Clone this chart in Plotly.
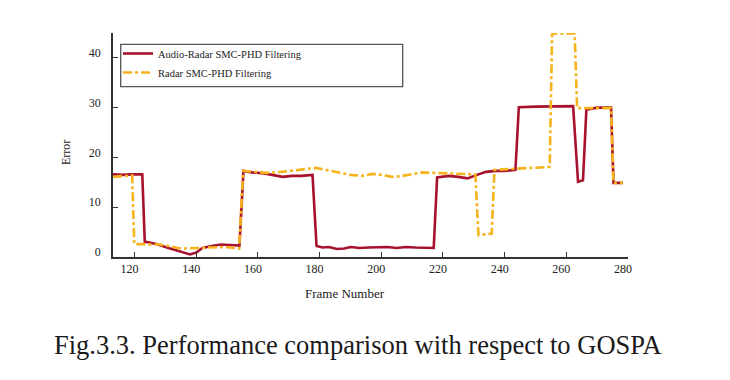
import plotly.graph_objects as go

# Audio-Radar SMC-PHD Filtering
frames_ar = [113, 116, 119, 122.5, 123.3, 127, 131, 135, 137, 138, 140, 142, 145, 148, 151, 154,
             155.3, 158, 162, 165, 168, 171, 174, 177.7, 179, 181, 183, 185.6, 188, 190, 193, 196,
             199, 202, 205, 208, 211, 214, 217, 218.1, 220, 222, 225, 228, 231, 234, 237, 240,
             243.5, 244.6, 250, 255, 260, 262.2, 263.8, 265.4, 266.5, 270, 274.5, 275.3, 278.3]
error_ar = [16.6, 16.5, 16.6, 16.6, 3.1, 2.6, 1.8, 1.0, 0.6, 0.5, 0.9, 1.8, 2.2, 2.5, 2.4, 2.3,
            17.3, 17.0, 16.8, 16.5, 16.1, 16.3, 16.3, 16.5, 2.2, 1.9, 2.0, 1.6, 1.7, 2.0, 1.8, 1.9,
            2.0, 2.0, 1.8, 2.0, 1.9, 1.8, 1.8, 16.0, 16.2, 16.3, 16.1, 15.8, 16.5, 17.1, 17.3, 17.3,
            17.5, 30.1, 30.2, 30.3, 30.4, 30.3, 15.1, 15.4, 29.6, 30.0, 30.0, 14.9, 14.9]

# Radar SMC-PHD Filtering
frames_r = [113, 116, 119.2, 119.9, 124, 128, 131, 134, 136, 140, 144, 148, 151, 153.9, 155.2, 158,
            162.7, 166, 170, 174, 178.8, 182, 186.3, 190, 193.9, 197.1, 200, 203.5, 206, 210, 213.2,
            217, 220.7, 225, 230.5, 231.5, 235.8, 236.7, 240, 243.2, 248, 254.6, 255.4, 262.7, 263.5,
            274.5, 275.3, 278.3]
error_r = [16.1, 16.2, 16.4, 2.6, 2.6, 2.5, 2.2, 1.8, 1.7, 1.8, 2.0, 2.0, 1.9, 1.7, 17.3, 17.2,
           16.9, 17.0, 17.3, 17.6, 17.9, 17.5, 17.0, 16.5, 16.3, 16.7, 16.5, 16.1, 16.2, 16.6, 17.0,
           16.9, 16.8, 16.7, 16.6, 4.4, 4.7, 17.5, 17.6, 17.8, 17.9, 18.1, 44.9, 44.9, 29.9,
           29.9, 14.9, 14.9]

x_ticks = [120, 140, 160, 180, 200, 220, 240, 260, 280]
y_ticks = [0, 10, 20, 30, 40]

SERIF = "Liberation Serif, Times New Roman, serif"
RED = "#A8122E"
YEL = "#F6B31B"

# page offset of the figure (browser body margin)
OFF = 8
W, H = 730 - OFF, 380 - OFF
# target plot-area edges in screen pixels
PL, PR, PT, PB = 113, 628, 33, 257
ML, MR, MT, MB = PL - OFF, W + OFF - PR, PT - OFF, H + OFF - PB
pw, ph = PR - PL, PB - PT


def px2paper(px, py):
    return (px - PL) / pw, (PB - py) / ph


fig = go.Figure()
fig.add_trace(go.Scatter(x=frames_ar, y=error_ar, mode="lines", name="Audio-Radar SMC-PHD Filtering",
                         line=dict(color=RED, width=2.6)))
fig.add_trace(go.Scatter(x=frames_r, y=error_r, mode="lines", name="Radar SMC-PHD Filtering",
                         line=dict(color=YEL, width=2.6, dash="dashdot")))

lx, ly = px2paper(118, 39)
bx0, by0 = px2paper(120.7, 86.7)
bx1, by1 = px2paper(402.7, 44.3)

annots = []
for text, px, py, size, angle in [
    ("Frame Number", 345, 293, 13, 0),
    ("Error", 66, 153, 12, -90),
    ("Fig.3.3. Performance comparison with respect to GOSPA", 358, 345, 26.5, 0),
]:
    ax, ay = px2paper(px, py)
    annots.append(dict(text=text, x=ax, y=ay, xref="paper", yref="paper", xanchor="center",
                       yanchor="middle", textangle=angle, showarrow=False,
                       font=dict(family=SERIF, size=size, color="#1a1a1a")))

fig.update_layout(
    width=W, height=H,
    margin=dict(l=ML, r=MR, t=MT, b=MB),
    paper_bgcolor="white", plot_bgcolor="white",
    font=dict(family=SERIF, size=12, color="#222"),
    showlegend=True,
    legend=dict(x=lx, y=ly, xanchor="left", yanchor="top",
                borderwidth=0, bgcolor="rgba(0,0,0,0)",
                font=dict(family=SERIF, size=10.5, color="#222"),
                tracegroupgap=0),
    shapes=[dict(type="rect", xref="paper", yref="paper", x0=bx0, x1=bx1, y0=by0, y1=by1,
                 line=dict(color="#555", width=1.3), fillcolor="rgba(0,0,0,0)", layer="below")],
    xaxis=dict(range=[113, 280], tickvals=x_ticks, ticks="inside", ticklen=5,
               tickcolor="#333", showline=True, linecolor="#333", linewidth=1.5,
               showgrid=False, zeroline=False, ticklabelshift=-5,
               tickfont=dict(family=SERIF, size=12, color="#222")),
    yaxis=dict(range=[0, 45], tickvals=y_ticks, ticks="inside", ticklen=5,
               tickcolor="#333", showline=True, linecolor="#333", linewidth=1.5,
               showgrid=False, zeroline=False, ticklabelstandoff=8, ticklabelshift=-5,
               tickfont=dict(family=SERIF, size=12, color="#222")),
    annotations=annots,
)

fig.write_html("out.html")
